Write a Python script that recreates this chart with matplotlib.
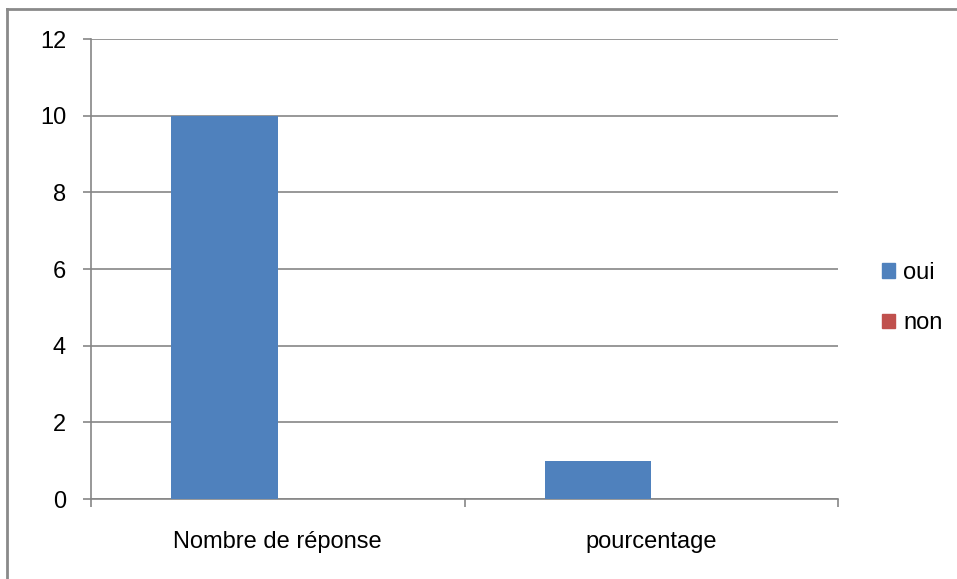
import matplotlib.pyplot as plt
from matplotlib.lines import Line2D
from matplotlib.patches import Patch
import numpy as np

categories = ["Nombre de réponse", "pourcentage"]
series = ["oui", "non"]
oui = [10, 1]
non = [0, 0]
colors = ["#4F81BD", "#C0504D"]

plt.rcParams['font.family'] = ['Liberation Sans', 'DejaVu Sans']

W, H = 957, 579
fig = plt.figure(figsize=(W / 100, H / 100), dpi=100)
ax = fig.add_axes([91 / W, 1 - 499 / H, (838 - 91) / W, (499 - 39) / H])

x = np.arange(len(categories))
bw = 1 / 3.5
ax.bar(x - bw / 2, oui, bw, color=colors[0], zorder=3)
ax.bar(x + bw / 2, non, bw, color=colors[1], zorder=3)

ax.set_xlim(-0.5, len(categories) - 0.5)
ax.set_ylim(0, 12)
ax.set_yticks(range(0, 13, 2))
ax.grid(axis='y', color='#868686', linewidth=1.2, zorder=0)

ax.set_xticks(x)
ax.set_xticklabels(categories, fontsize=17)
ax.tick_params(axis='x', length=0, pad=23)
# category boundary ticks
ax.set_xticks(np.arange(-0.5, len(categories)), minor=True)
ax.tick_params(axis='x', which='minor', length=6, color='#868686', width=1.2, direction='out')
ax.tick_params(axis='y', length=6, color='#868686', width=1.2, labelsize=17, pad=12)

for s in ['top', 'right']:
    ax.spines[s].set_visible(False)
for s in ['left', 'bottom']:
    ax.spines[s].set_color('#868686')
    ax.spines[s].set_linewidth(1.2)

handles = [Patch(color=c, label=l) for c, l in zip(colors, series)]
fig.legend(handles=handles, loc='center left', bbox_to_anchor=(861 / W, 1 - 298 / H),
           frameon=False, fontsize=17, handlelength=0.55, handleheight=0.55,
           handletextpad=0.35, labelspacing=1.2)

# outer chart border (left and top visible)
fig.add_artist(Line2D([7 / W, 7 / W], [0, 1 - 9 / H], color='#8a8a8a', linewidth=2, transform=fig.transFigure))
fig.add_artist(Line2D([7 / W, 1], [1 - 9 / H, 1 - 9 / H], color='#8a8a8a', linewidth=2, transform=fig.transFigure))

fig.savefig("out.png", dpi=100)
